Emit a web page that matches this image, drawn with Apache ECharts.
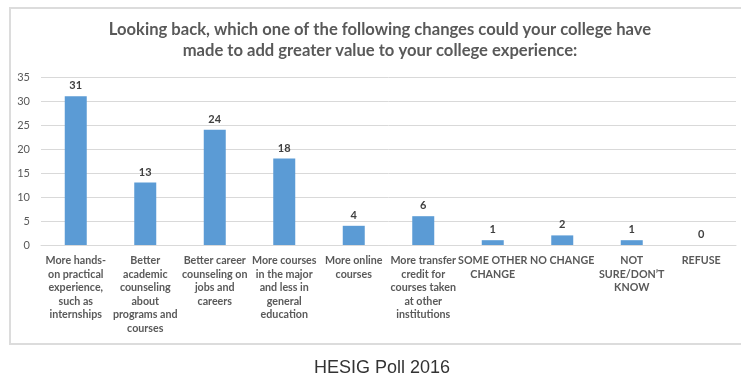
<!DOCTYPE html>
<html>
<head>
<meta charset="utf-8">
<script src="https://cdn.jsdelivr.net/npm/echarts@6/dist/echarts.min.js"></script>
<style>
  html, body { margin: 0; padding: 0; background: #fff; }
  #chart { width: 741px; height: 375px; }
</style>
</head>
<body>
<div id="chart"></div>
<script>
// Survey answer options (line breaks as they wrap under each bar)
const categories = [
  'More hands-\non practical\nexperience,\nsuch as\ninternships',
  'Better\nacademic\ncounseling\nabout\nprograms and\ncourses',
  'Better career\ncounseling on\njobs and\ncareers',
  'More courses\nin the major\nand less in\ngeneral\neducation',
  'More online\ncourses',
  'More transfer\ncredit for\ncourses taken\nat other\ninstitutions',
  'SOME OTHER\nCHANGE',
  'NO CHANGE',
  'NOT\nSURE/DON\u2019T\nKNOW',
  'REFUSE'
];
// Number of responses per option
const responses = [31, 13, 24, 18, 4, 6, 1, 2, 1, 0];

const chartTitle = 'Looking back, which one of the following changes could your college have\nmade to add greater value to your college experience:';
const footer = 'HESIG Poll 2016';

const chart = echarts.init(document.getElementById('chart'), null, { renderer: 'canvas' });

chart.setOption({
  animation: false,
  backgroundColor: '#fff',
  title: [
    {
      text: chartTitle,
      left: 380,
      top: 19,
      padding: 0,
      textAlign: 'center',
      textStyle: {
        fontFamily: 'Lato',
        fontWeight: 'bold',
        fontSize: 16.6,
        lineHeight: 21,
        color: '#595959'
      }
    },
    {
      text: footer,
      left: 382,
      top: 358,
      padding: 0,
      textAlign: 'center',
      textStyle: {
        fontFamily: 'Liberation Sans',
        fontWeight: 'normal',
        fontSize: 18,
        lineHeight: 20,
        color: '#333333'
      }
    }
  ],
  graphic: [
    {
      type: 'rect',
      shape: { x: 10, y: 8, width: 740, height: 336 },
      style: { fill: 'none', stroke: '#dcdcdc', lineWidth: 2 },
      silent: true,
      z: -1
    }
  ],
  grid: { left: 41, right: 5, top: 77, bottom: 130, containLabel: false },
  xAxis: {
    type: 'category',
    data: categories,
    axisTick: { show: false },
    axisLine: { show: true, lineStyle: { color: '#d9d9d9', width: 1 } },
    axisLabel: {
      interval: 0,
      margin: 9,
      fontFamily: 'Lato',
      fontWeight: 'bold',
      fontSize: 10.7,
      lineHeight: 13.5,
      color: '#595959',
      align: 'center',
      verticalAlign: 'top'
    }
  },
  yAxis: {
    type: 'value',
    min: 0,
    max: 35,
    interval: 5,
    axisLine: { show: false },
    axisTick: { show: false },
    splitLine: { lineStyle: { color: '#d9d9d9', width: 1 } },
    axisLabel: {
      margin: 11,
      fontFamily: 'Lato',
      fontSize: 11,
      color: '#595959'
    }
  },
  series: [
    {
      type: 'bar',
      data: responses,
      barWidth: 22,
      itemStyle: { color: '#5B9BD5' },
      label: {
        show: true,
        position: 'top',
        distance: 5,
        fontFamily: 'Lato',
        fontWeight: 'bold',
        fontSize: 11,
        color: '#404040'
      }
    }
  ]
});
</script>
</body>
</html>
